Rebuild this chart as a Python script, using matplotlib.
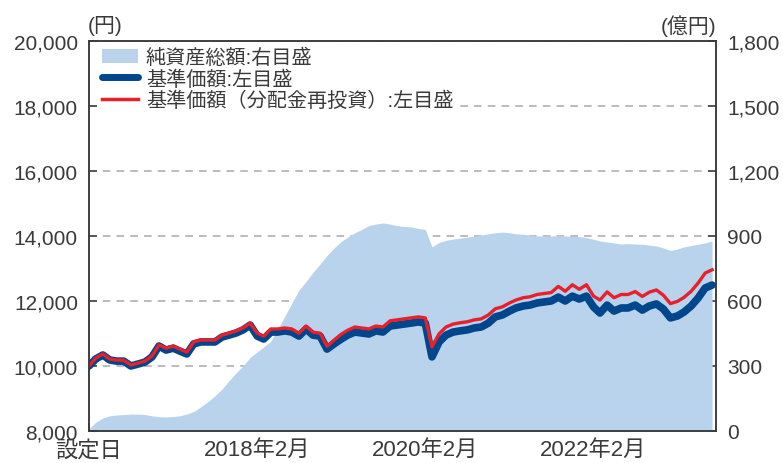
import pandas as pd
import matplotlib.pyplot as plt
from matplotlib.patches import Patch
from matplotlib.lines import Line2D
from matplotlib.ticker import FuncFormatter

plt.rcParams['font.family'] = ['Liberation Sans', 'Noto Sans CJK JP', 'DejaVu Sans']

# monthly points from the fund start (Feb 2016) to Jul 2023
months = pd.date_range('2016-02-01', periods=90, freq='MS')

# 基準価額 (yen)
nav = [10000, 10215, 10338, 10185, 10150, 10150, 10000, 10060, 10120, 10280,
       10615, 10490, 10550, 10460, 10370, 10680, 10740, 10740, 10740, 10890,
       10950, 11015, 11110, 11260, 10920, 10830, 11045, 11045, 11080, 11045,
       10920, 11140, 10950, 10920, 10520, 10680, 10830, 10950, 11045, 11015,
       10985, 11080, 11045, 11230, 11260, 11290, 11320, 11355, 11320, 10280,
       10740, 10950, 11045, 11080, 11110, 11170, 11200, 11320, 11510, 11570,
       11690, 11785, 11845, 11875, 11940, 11970, 12000, 12120, 12000, 12150,
       12060, 12150, 11815, 11630, 11875, 11690, 11785, 11785, 11875, 11720,
       11845, 11910, 11755, 11480, 11540, 11660, 11845, 12090, 12400, 12490]

# 基準価額(分配金再投資) (yen)
nav_reinvest = [10000, 10240, 10370, 10215, 10180, 10180, 10030, 10090, 10150, 10310,
                10650, 10550, 10610, 10520, 10430, 10740, 10800, 10800, 10800, 10950,
                11010, 11080, 11170, 11320, 11010, 10920, 11140, 11140, 11170, 11140,
                11010, 11230, 11040, 11010, 10610, 10800, 10980, 11100, 11200, 11170,
                11140, 11230, 11200, 11390, 11420, 11450, 11480, 11510, 11480, 10590,
                10990, 11200, 11290, 11330, 11360, 11420, 11450, 11570, 11760, 11820,
                11940, 12030, 12100, 12130, 12200, 12230, 12260, 12450, 12300, 12500,
                12360, 12500, 12150, 12030, 12280, 12100, 12200, 12200, 12290, 12140,
                12270, 12340, 12180, 11920, 11990, 12110, 12300, 12550, 12860, 12960]

# 純資産総額 (100 million yen)
net_assets = [10, 40, 60, 70, 74, 76, 78, 78, 76, 70,
              66, 65, 67, 70, 78, 90, 112, 135, 162, 194,
              232, 268, 300, 340, 365, 388, 415, 470, 530, 590,
              650, 690, 732, 771, 810, 845, 875, 895, 915, 930,
              948, 955, 960, 955, 948, 944, 942, 935, 930, 850,
              870, 880, 886, 890, 895, 900, 905, 910, 915, 918,
              915, 910, 908, 904, 900, 900, 900, 902, 900, 898,
              897, 893, 885, 877, 872, 868, 863, 865, 863, 862,
              858, 854, 845, 833, 840, 850, 856, 862, 868, 877]

x_ticks = pd.to_datetime(['2016-02-01', '2018-02-01', '2020-02-01', '2022-02-01'])
x_labels = ['設定日', '2018年2月', '2020年2月', '2022年2月']
left_ticks = [8000, 10000, 12000, 14000, 16000, 18000, 20000]
right_ticks = [0, 300, 600, 900, 1200, 1500, 1800]

c_area = '#b9d3ec'
c_blue = '#00468c'
c_red = '#e8202a'
c_text = '#3a3a3a'
c_spine = '#3a3a3a'

fig = plt.figure(figsize=(7.83, 4.64), dpi=100)
ax = fig.add_axes([89 / 783, 32 / 464, 627 / 783, 390 / 464])

ax.fill_between(months, net_assets, 0, color=c_area, lw=0, zorder=1)
ax.set_ylim(0, 1800)
ax.set_yticks(right_ticks)
ax.yaxis.set_major_formatter(FuncFormatter(lambda v, p: f'{int(v):,}'))
ax.set_axisbelow(True)
ax.grid(axis='y', color='#aaaaaa', linestyle=(0, (5, 4)), lw=1.1)
ax.set_xlim(pd.Timestamp('2016-02-01'), pd.Timestamp('2023-07-18'))
ax.set_xticks(x_ticks)
ax.set_xticklabels(x_labels)

ax2 = ax.twinx()
ax2.plot(months, nav, color=c_blue, lw=5.5, solid_capstyle='round', solid_joinstyle='round')
ax2.plot(months, nav_reinvest, color=c_red, lw=2.4)
ax2.set_ylim(8000, 20000)
ax2.set_yticks(left_ticks)
ax2.yaxis.set_major_formatter(FuncFormatter(lambda v, p: f'{int(v):,}'))

ax.yaxis.tick_right()
ax2.yaxis.tick_left()
ax.tick_params(axis='y', direction='in', length=6, width=1.1, color=c_spine,
               labelsize=15, labelcolor=c_text, pad=8, right=True, left=False,
               labelright=True, labelleft=False)
ax2.tick_params(axis='y', direction='in', length=6, width=1.1, color=c_spine,
                labelsize=15, labelcolor=c_text, pad=8, left=True, right=False,
                labelleft=True, labelright=False)
ax.tick_params(axis='x', direction='in', length=6, width=1.1, color=c_spine,
               labelsize=16, labelcolor=c_text, pad=6)

for a in (ax, ax2):
    for s in a.spines.values():
        s.set_color(c_spine)
        s.set_linewidth(1.1)

handles = [Patch(facecolor=c_area, edgecolor='none'),
           Line2D([], [], color=c_blue, lw=5, solid_capstyle='round'),
           Line2D([], [], color=c_red, lw=2.5)]
labels = ['純資産総額:右目盛', '基準価額:左目盛', '基準価額（分配金再投資）:左目盛']
leg = ax2.legend(handles, labels, loc='upper left', bbox_to_anchor=(0.012, 0.995),
                 fontsize=14.5, frameon=True, fancybox=False, framealpha=1,
                 facecolor='white', edgecolor='none', borderpad=0.25,
                 labelspacing=0.1, handlelength=1.8, handletextpad=0.4,
                 borderaxespad=0)
for t in leg.get_texts():
    t.set_color(c_text)

fig.text(88 / 783, 1 - 26 / 464, '(円)', ha='left', va='center', fontsize=15, color=c_text)
fig.text(716 / 783, 1 - 26 / 464, '(億円)', ha='right', va='center', fontsize=15, color=c_text)

fig.savefig('out.png', dpi=100)
